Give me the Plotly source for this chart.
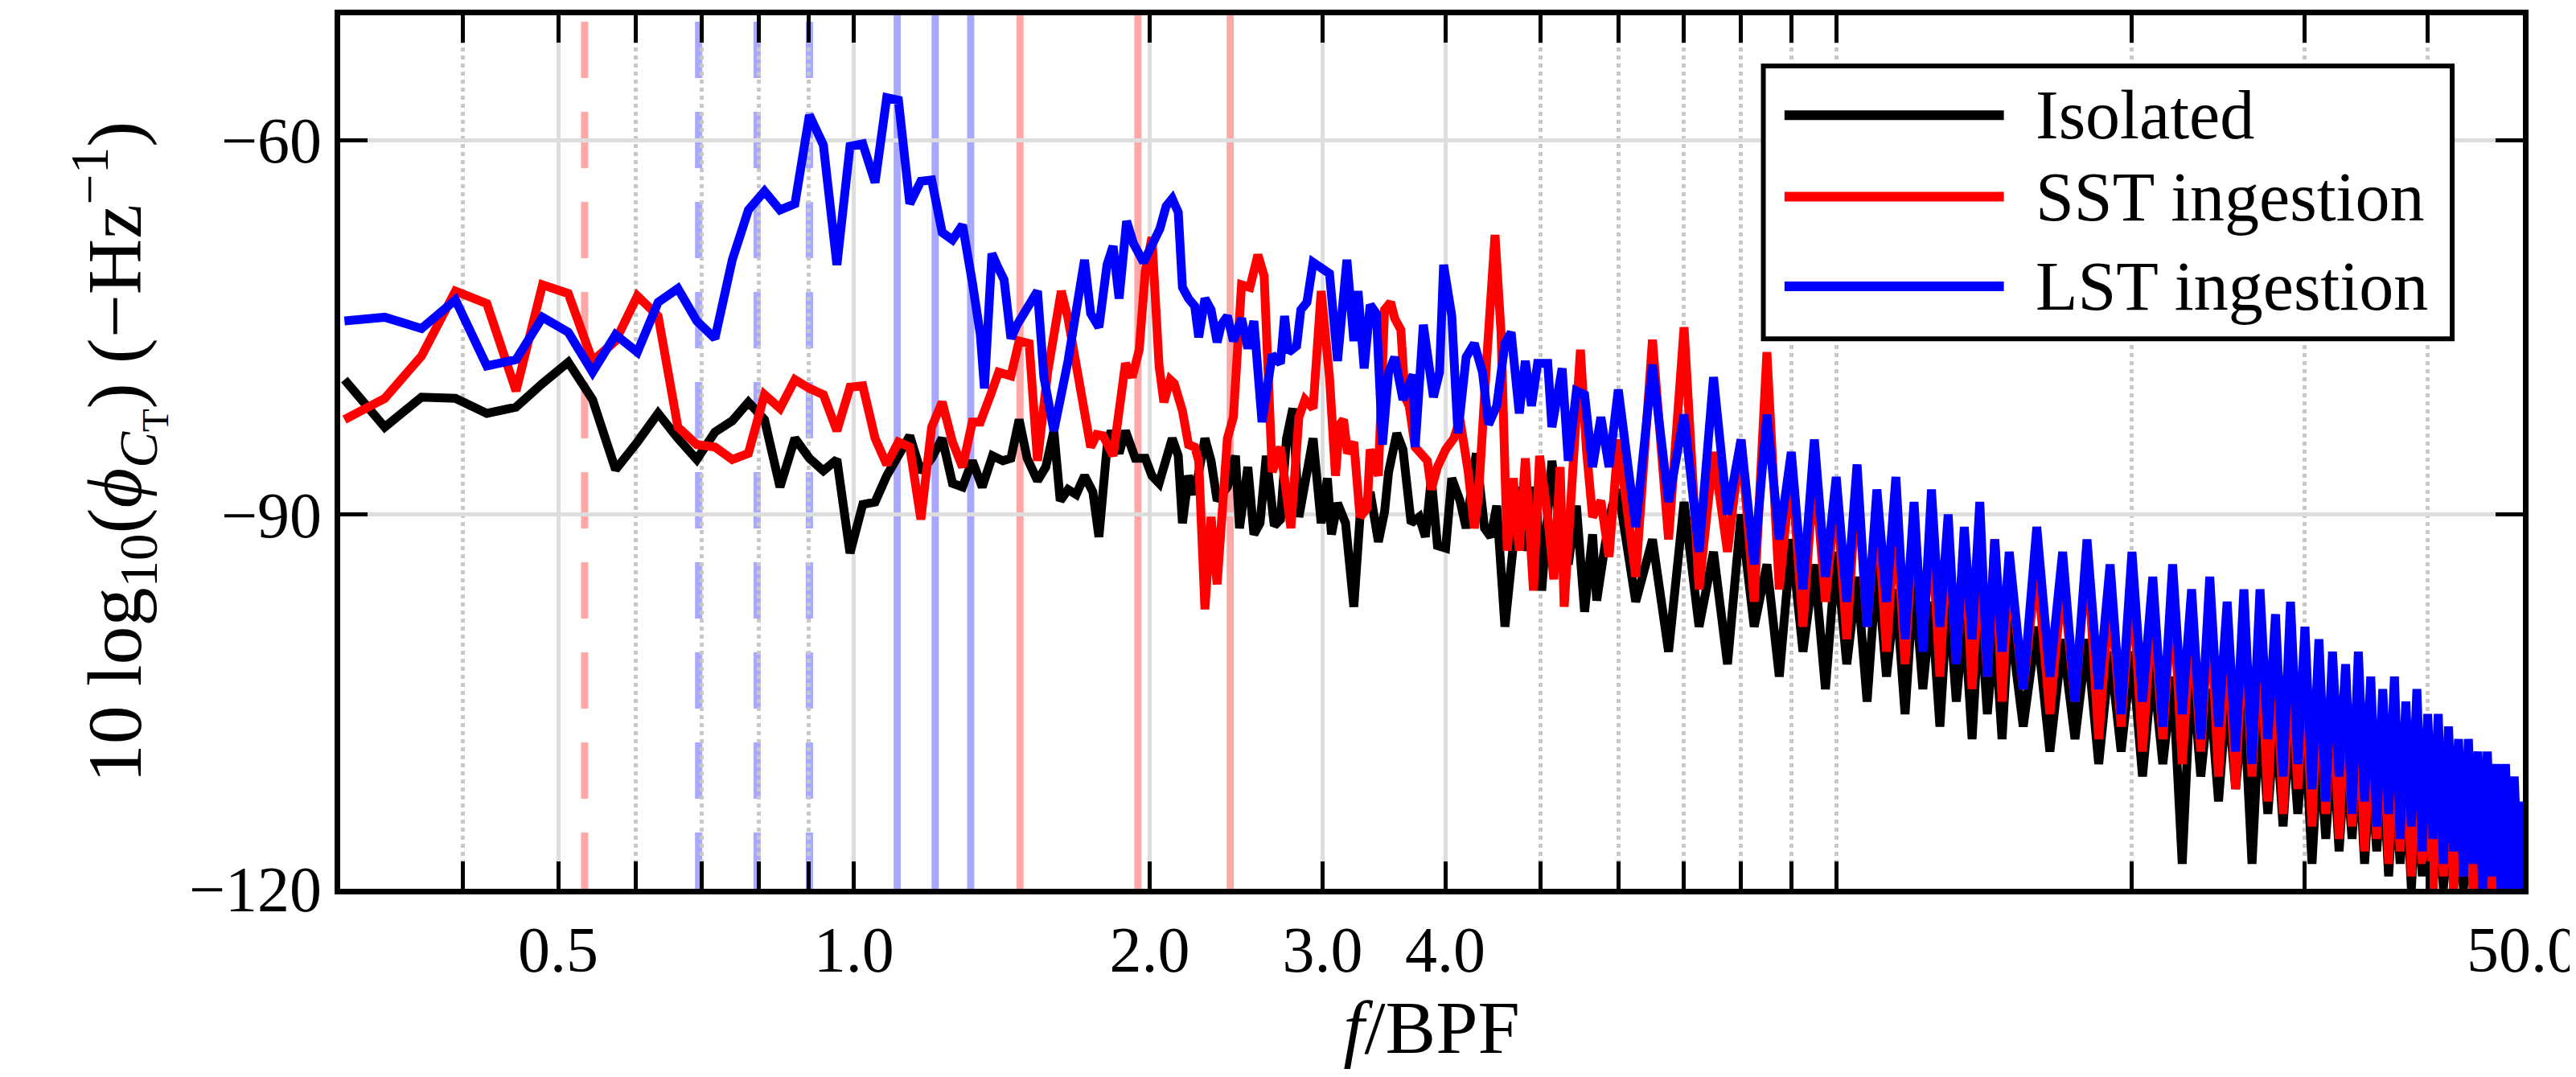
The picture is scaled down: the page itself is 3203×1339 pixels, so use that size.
import plotly.graph_objects as go

# ---------------- data ----------------
FREQ_LO = [0.303,0.333,0.363,0.393,0.423,0.453,0.482,0.512,0.542,0.572,0.602,0.632,0.662,0.692,
           0.722,0.752,0.781,0.811,0.841,0.871,0.901,0.931,0.961,0.991,1.021,1.051,1.080,1.110,
           1.140,1.170,1.200,1.230,1.260,1.290,1.320]
ISO_LO = [-79.2,-83.0,-80.6,-80.7,-81.9,-81.4,-79.5,-77.8,-80.8,-86.4,-84.2,-81.9,-83.9,-85.6,
          -83.4,-82.5,-81.0,-82.4,-87.8,-83.9,-85.5,-86.5,-85.6,-93.1,-89.2,-89.0,-86.9,-85.3,
          -83.7,-86.6,-85.5,-83.9,-87.5,-87.8,-85.7]
SST_LO = [-82.4,-80.7,-77.3,-72.1,-73.1,-80.1,-71.6,-72.3,-77.7,-76.1,-72.5,-74.1,-83.0,-84.4,
          -84.6,-85.6,-85.1,-80.4,-81.5,-79.2,-79.9,-80.4,-83.3,-79.8,-79.7,-83.9,-86.0,-84.2,
          -84.6,-90.4,-83.0,-81.0,-84.2,-86.2,-82.6]
LST_LO = [-74.5,-74.2,-75.1,-72.8,-78.1,-77.6,-74.2,-75.4,-78.6,-75.6,-77.0,-73.0,-71.9,-74.5,
          -75.9,-69.6,-65.6,-64.1,-65.6,-65.1,-58.0,-60.4,-70.0,-60.5,-60.3,-63.4,-56.6,-56.8,
          -65.1,-63.3,-63.2,-67.4,-68.0,-66.8,-71.4]

ISO_MID_F = [1.351,1.384,1.418,1.445,1.473,1.501,1.538,1.568,1.598,1.622,1.652,1.684,1.717,1.751,
             1.776,1.810,1.827,1.862,1.890,1.934,1.980,2.011,2.045,2.109,2.139,2.160,2.191,2.223,
             2.277,2.310,2.343,2.400,2.446,2.469,2.518,2.554,2.591,2.629,2.679,2.718,2.757,2.798,
             2.838,2.879,2.934,2.990,3.034,3.063,3.107,3.166,3.228,3.275,3.354,3.419,3.469,3.502,
             3.570,3.622,3.692,3.763,3.817,3.871,3.927,4.003,4.061,4.140,4.200,4.301,4.385,4.450,
             4.512,4.600,4.690,4.757,4.848,4.941,5.014,5.135,5.235,5.336,5.439,5.544,5.649,5.704,
             5.815,5.916]
ISO_MID = [-87.8,-85.3,-85.7,-85.5,-82.4,-85.5,-87.3,-86.2,-83.3,-88.9,-88.0,-88.4,-86.9,-88.2,
           -91.8,-84.6,-83.3,-85.1,-83.3,-85.5,-85.5,-86.9,-87.5,-83.9,-85.3,-90.7,-86.9,-88.4,
           -83.9,-85.7,-88.9,-87.8,-85.3,-91.1,-86.2,-91.6,-90.7,-85.3,-90.9,-90.4,-83.9,-81.5,
           -90.2,-87.3,-83.9,-90.7,-87.1,-91.6,-89.1,-90.7,-97.4,-90.2,-88.2,-92.2,-89.8,-86.6,
           -83.5,-84.8,-90.7,-90.2,-91.8,-87.1,-92.5,-92.7,-87.1,-88.9,-91.1,-85.1,-91.1,-91.8,
           -89.3,-99.0,-91.6,-87.8,-92.9,-87.8,-96.1,-85.7,-91.1,-94.0,-89.3,-97.8,-91.6,-96.9,
           -92.5,-89.3]

SST_MID_F = [1.345,1.378,1.404,1.445,1.473,1.508,1.538,1.575,1.606,1.626,1.652,1.688,1.717,1.742,
             1.767,1.794,1.836,1.862,1.890,1.920,1.952,1.980,2.011,2.045,2.068,2.099,2.119,2.160,
             2.191,2.223,2.244,2.277,2.310,2.343,2.400,2.434,2.481,2.530,2.578,2.616,2.666,2.718,
             2.785,2.838,2.879,2.934,2.990,3.049,3.092,3.122,3.151,3.181,3.228,3.275,3.330,3.354,
             3.419,3.469,3.519,3.553,3.604,3.640,3.675,3.727,3.781,3.835,3.871,3.927,4.003,4.081,
             4.140,4.221,4.281,4.322,4.407,4.494,4.558,4.625,4.690,4.757,4.825,4.918,4.989,5.086,
             5.158,5.235,5.285,5.385,5.490,5.568,5.649,5.760,5.871]
SST_MID = [-82.6,-80.4,-78.6,-78.9,-76.1,-76.3,-85.7,-78.6,-74.3,-72.1,-74.3,-78.6,-81.3,-84.6,
           -83.6,-83.7,-85.3,-81.3,-77.9,-79.0,-76.8,-70.5,-67.8,-78.1,-81.0,-79.2,-79.5,-81.7,
           -84.4,-84.6,-85.7,-97.6,-90.2,-95.6,-83.9,-82.2,-71.6,-71.8,-69.2,-70.9,-86.6,-84.6,
           -91.1,-82.2,-80.8,-81.5,-72.1,-79.0,-86.9,-82.8,-82.4,-85.1,-84.2,-90.2,-89.5,-84.8,
           -86.9,-73.6,-73.0,-74.3,-75.2,-80.6,-81.3,-84.6,-85.3,-85.7,-88.0,-86.2,-84.8,-83.9,
           -82.4,-86.6,-91.1,-88.7,-77.7,-67.6,-75.4,-92.9,-87.1,-92.9,-85.5,-96.1,-85.3,-90.2,
           -95.2,-86.2,-97.4,-87.5,-76.8,-84.8,-90.2,-88.9,-93.4]

LST_MID_F = [1.345,1.358,1.382,1.398,1.422,1.445,1.466,1.538,1.561,1.598,1.652,1.717,1.742,1.776,
             1.810,1.836,1.862,1.895,1.926,1.972,2.011,2.049,2.079,2.109,2.139,2.160,2.191,2.223,
             2.244,2.277,2.310,2.343,2.366,2.400,2.434,2.481,2.518,2.554,2.603,2.666,2.718,2.744,
             2.770,2.823,2.851,2.892,2.934,2.990,3.049,3.107,3.176,3.228,3.260,3.307,3.354,3.403,
             3.452,3.502,3.553,3.622,3.709,3.727,3.799,3.890,3.946,3.984,4.061,4.120,4.200,4.281,
             4.364,4.427,4.512,4.600,4.667,4.757,4.825,4.895,4.966,5.086,5.135,5.260,5.336,5.439,
             5.544,5.649,5.760,5.871]
LST_MID = [-75.6,-79.9,-69.1,-70.0,-71.2,-75.9,-74.8,-72.1,-79.0,-83.3,-77.7,-69.6,-73.9,-75.0,
           -70.0,-68.5,-72.7,-66.5,-68.3,-69.8,-68.3,-67.1,-65.3,-64.7,-65.8,-71.8,-72.7,-73.3,
           -75.8,-72.7,-73.6,-76.2,-74.8,-74.1,-76.1,-74.3,-76.7,-74.5,-82.6,-77.2,-77.9,-74.1,
           -77.0,-76.5,-73.6,-73.0,-69.8,-70.3,-70.7,-77.7,-69.6,-76.1,-72.1,-78.3,-73.2,-73.9,
           -84.4,-78.6,-77.4,-80.8,-78.8,-84.6,-74.8,-80.6,-78.6,-70.0,-74.1,-83.5,-77.4,-76.3,
           -78.6,-82.8,-81.3,-76.3,-75.4,-81.9,-77.7,-81.3,-77.9,-77.9,-83.0,-78.3,-85.7,-80.1,
           -80.4,-86.2,-82.2,-86.2]

FREQ_HI = [6.0,6.25,6.5,6.75,7.0,7.25,7.5,7.75,8.0,8.25,8.5,8.75,9.0,9.25,9.5,9.75,10.0,10.25,
           10.5,10.75,11.0,11.25,11.5,11.75,12.0,12.25,12.5,12.75,13.0,13.25,13.5,13.75,14.0,
           14.25,14.5,14.75,15.0,
           15.5,16.0,16.5,17.0,17.5,18.0,18.5,19.0,19.5,20.0,20.5,21.0,21.5,22.0,22.5,23.0,23.5,
           24.0,24.5,25.0,25.5,26.0,26.5,27.0,27.5,28.0,28.5,29.0,29.5,30.0,30.5,31.0,31.5,32.0,
           32.5,33.0,33.5,34.0,34.5,35.0,35.5,36.0,36.5,37.0,37.5,38.0,38.5,39.0,39.5,40.0,40.5,
           41.0,41.5,42.0,42.5,43.0,43.5,44.0,44.5,45.0,45.5,46.0,46.5,47.0,47.5,48.0,48.5,49.0,
           49.5,50.0]
ISO_HI = [-88,-97,-92,-101,-89,-99,-93,-102,-90,-99,-94,-103,-92,-101,-94,-104,-93,-102,-95,-105,
          -94,-103,-96,-106,-95,-104,-97,-107,-96,-105,-98,-108,-97,-106,-99,-108,-98,
          -107,-99,-109,-100,-108,-100,-110,-101,-109,-101,-111,-102,-110,-103,-118,-102,-111,-104,
          -113,-104,-112,-105,-118,-105,-114,-106,-115,-106,-114,-107,-118,-108,-116,-108,-117,-109,
          -116,-109,-118,-110,-117,-110,-119,-111,-118,-111,-120,-112,-119,-112,-120,-113,-120,-113,
          -120,-114,-120,-114,-120,-115,-120,-115,-120,-116,-120,-116,-120,-117,-120,-118]
SST_HI = [-84,-95,-76,-92,-75,-96,-85,-93,-84,-97,-77,-96,-86,-99,-86,-97,-88,-100,-87,-99,
          -89,-101,-90,-102,-90,-100,-91,-103,-91,-102,-92,-104,-93,-103,-92,-105,-94,
          -104,-94,-106,-95,-105,-93,-108,-96,-107,-95,-109,-97,-108,-96,-110,-98,-109,-97,
          -111,-99,-112,-98,-111,-99,-113,-100,-114,-101,-112,-102,-115,-101,-114,-103,-116,-104,
          -115,-105,-117,-106,-116,-105,-118,-107,-117,-108,-119,-107,-118,-109,-120,-108,-119,-110,
          -120,-110,-119,-111,-120,-111,-120,-112,-120,-112,-120,-113,-120,-113,-120,-115]
LST_HI = [-80,-91,-78,-89,-82,-93,-79,-90,-84,-94,-82,-92,-85,-96,-84,-95,-87,-97,-86,-99,
          -88,-97,-87,-100,-89,-101,-88,-99,-90,-102,-91,-100,-89,-103,-92,-101,-93,
          -104,-91,-103,-93,-105,-92,-104,-94,-106,-93,-105,-95,-107,-94,-106,-96,-108,-95,
          -107,-97,-109,-96,-110,-96,-108,-98,-111,-97,-110,-99,-112,-100,-113,-101,-111,-102,
          -114,-101,-113,-103,-115,-104,-114,-103,-116,-105,-115,-104,-117,-106,-116,-106,-118,-107,
          -117,-108,-119,-108,-118,-109,-120,-109,-119,-110,-120,-110,-120,-111,-120,-113]

SERIES = ["Isolated", "SST ingestion", "LST ingestion"]
COLORS = ["#000000", "#ff0000", "#0000ff"]

REF_PINK_DASH = [0.532]
REF_BLUE_DASH = [0.695, 0.797, 0.901]
REF_BLUE_SOLID = [1.107, 1.210, 1.315]
REF_PINK_SOLID = [1.476, 1.946, 2.416]

X_TICKS = [0.5, 1.0, 2.0, 3.0, 4.0, 50.0]
X_TICK_TEXT = ["0.5", "1.0", "2.0", "3.0", "4.0", "50.0"]
X_MINOR = [0.4, 0.6, 0.7, 0.8, 0.9, 5, 6, 7, 8, 9, 10, 20, 30, 40]
Y_TICKS = [-120, -90, -60]
Y_TICK_TEXT = ["\u2212120", "\u221290", "\u221260"]

# ---------------- figure ----------------
FONT = "Liberation Serif"
fig = go.Figure()

xs = [FREQ_LO + ISO_MID_F + FREQ_HI, FREQ_LO + SST_MID_F + FREQ_HI, FREQ_LO + LST_MID_F + FREQ_HI]
ys = [ISO_LO + ISO_MID + ISO_HI, SST_LO + SST_MID + SST_HI, LST_LO + LST_MID + LST_HI]

shapes = []
def vline(x, color, dash):
    shapes.append(dict(type="line", xref="x", yref="paper", x0=x, x1=x, y0=0, y1=1,
                       line=dict(color=color, width=9, dash=dash), layer="below"))
for x in REF_PINK_DASH: vline(x, "#ffa8a8", "70px,42px")
for x in REF_BLUE_DASH: vline(x, "#a8a8ff", "70px,42px")
for x in REF_BLUE_SOLID: vline(x, "#a8a8ff", "solid")
for x in REF_PINK_SOLID: vline(x, "#ffa8a8", "solid")

for name, c, x, y in zip(SERIES, COLORS, xs, ys):
    fig.add_trace(go.Scatter(x=x, y=y, mode="lines", name=name,
                             line=dict(color=c, width=11), showlegend=False))

# manual legend
LX0, LX1, LY0, LY1 = 0.652, 0.9676, 0.6295, 0.942
shapes.append(dict(type="rect", xref="paper", yref="paper", x0=LX0, x1=LX1, y0=LY0, y1=LY1,
                   line=dict(color="black", width=6), fillcolor="white", layer="above"))
annotations = []
for name, c, ry in zip(SERIES, COLORS, [0.8856, 0.7923, 0.6898]):
    shapes.append(dict(type="line", xref="paper", yref="paper", x0=0.6617, x1=0.7622,
                       y0=ry, y1=ry, line=dict(color=c, width=12), layer="above"))
    annotations.append(dict(xref="paper", yref="paper", x=0.7759, y=ry, text=name,
                            showarrow=False, xanchor="left", yanchor="middle",
                            font=dict(family=FONT, size=86, color="black")))

fig.update_layout(
    width=3203, height=1339,
    margin=dict(l=415, r=71, t=4, b=242),
    paper_bgcolor="white", plot_bgcolor="white",
    font=dict(family=FONT, size=80, color="black"),
    shapes=shapes, annotations=annotations,
)
fig.update_xaxes(
    type="log", range=[-0.5229, 1.699],
    tickmode="array", tickvals=X_TICKS, ticktext=X_TICK_TEXT,
    ticks="inside", ticklen=34, tickwidth=5, tickcolor="black",
    showgrid=True, gridcolor="#dddddd", gridwidth=5,
    minor=dict(tickmode="array", tickvals=X_MINOR, ticks="inside", ticklen=34,
               tickwidth=5, tickcolor="black", showgrid=True, gridcolor="#c8c8c8",
               gridwidth=5, griddash="dot"),
    showline=True, linecolor="black", linewidth=7, mirror="allticks",
    title=dict(text="<i>f</i>/BPF", font=dict(size=94), standoff=8),
    tickfont=dict(size=80), zeroline=False,
)
fig.update_yaxes(
    range=[-120, -50], tickmode="array", tickvals=Y_TICKS, ticktext=Y_TICK_TEXT,
    ticks="inside", ticklen=34, tickwidth=5, tickcolor="black",
    showgrid=True, gridcolor="#dddddd", gridwidth=5,
    showline=True, linecolor="black", linewidth=7, mirror="allticks",
    title=dict(text="10 log<sub>10</sub>(<i>\u03d5</i><sub><i>C</i><sub>T</sub></sub>) (\u2212Hz<sup>\u22121</sup>)",
               font=dict(size=96), standoff=30),
    tickfont=dict(size=80), zeroline=False,
)
fig.write_html("out.html")
